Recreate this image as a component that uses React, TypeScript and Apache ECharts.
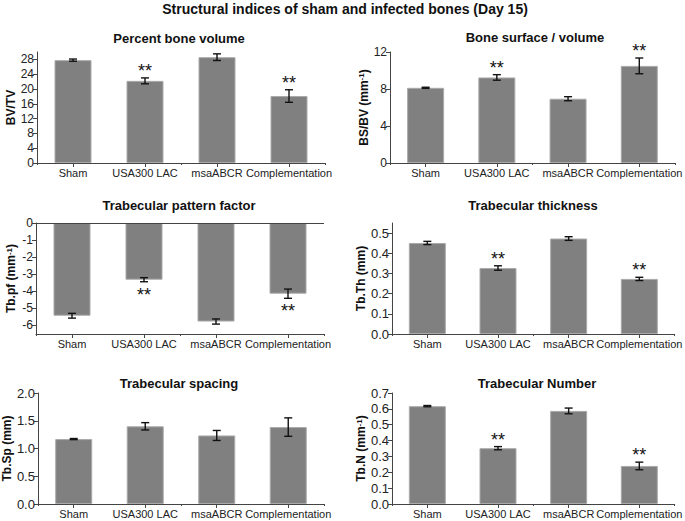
import React, { useEffect, useRef } from "react";
import * as echarts from "echarts";

const categories = ["Sham", "USA300 LAC", "msaABCR", "Complementation"];

const bvtvValues = [27.8, 22.2, 28.6, 18.1];
const bvtvErrors = [0.3, 0.8, 0.9, 1.7];
const bvtvStars = [false, true, false, true];

const bsbvValues = [8.13, 9.25, 6.95, 10.5];
const bsbvErrors = [0.06, 0.3, 0.22, 0.85];
const bsbvStars = [false, true, false, true];

const tbpfValues = [-5.43, -3.32, -5.77, -4.14];
const tbpfErrors = [0.14, 0.12, 0.15, 0.27];
const tbpfStars = [false, true, false, true];

const tbthValues = [0.451, 0.327, 0.473, 0.273];
const tbthErrors = [0.008, 0.011, 0.009, 0.008];
const tbthStars = [false, true, false, true];

const tbspValues = [1.17, 1.4, 1.235, 1.386];
const tbspErrors = [0.01, 0.066, 0.09, 0.166];
const tbspStars = [false, false, false, false];

const tbnValues = [0.617, 0.352, 0.587, 0.24];
const tbnErrors = [0.004, 0.01, 0.018, 0.024];
const tbnStars = [false, true, false, true];

const bvtvTicks = [0, 4, 8, 12, 16, 20, 24, 28];
const bsbvTicks = [0, 4, 8, 12];
const tbpfTicks = [0, -1, -2, -3, -4, -5, -6];
const tbthTicks = [0, 0.1, 0.2, 0.3, 0.4, 0.5];
const tbspTicks = [0, 0.5, 1.0, 1.5, 2.0];
const tbnTicks = [0, 0.1, 0.2, 0.3, 0.4, 0.5, 0.6, 0.7];

const FONT = "'Liberation Sans', Arial, Helvetica, sans-serif";

type Panel = {
  title: string;
  name: string;
  values: number[];
  errors: number[];
  stars: boolean[];
  ticks: number[];
  min: number;
  max: number;
  decimals: number;
  tickSize: number;
  grid: { left: number; top: number; width: number; height: number };
  titlePos: [number, number];
  nameGap: number;
  negative?: boolean;
};

const panels: Panel[] = [
  {
    title: "Percent bone volume",
    name: "{b|BV/TV}",
    values: bvtvValues, errors: bvtvErrors, stars: bvtvStars, ticks: bvtvTicks,
    min: 0, max: 30, decimals: 0, tickSize: 12,
    grid: { left: 37, top: 52, width: 288, height: 111 },
    titlePos: [179, 40], nameGap: 20,
  },
  {
    title: "Bone surface / volume",
    name: "{b|BS/BV (mm}{s|-1}{b|)}",
    values: bsbvValues, errors: bsbvErrors, stars: bsbvStars, ticks: bsbvTicks,
    min: 0, max: 12, decimals: 0, tickSize: 12,
    grid: { left: 390, top: 52, width: 288, height: 111 },
    titlePos: [535, 39], nameGap: 20,
  },
  {
    title: "Trabecular pattern factor",
    name: "{b|Tb.pf (mm}{s|-1}{b|)}",
    values: tbpfValues, errors: tbpfErrors, stars: tbpfStars, ticks: tbpfTicks,
    min: -6.5, max: 0, decimals: 0, tickSize: 12,
    grid: { left: 36, top: 223, width: 288, height: 111 },
    titlePos: [179, 207], nameGap: 19, negative: true,
  },
  {
    title: "Trabecular thickness",
    name: "{b|Tb.Th (mm)}",
    values: tbthValues, errors: tbthErrors, stars: tbthStars, ticks: tbthTicks,
    min: 0, max: 0.55, decimals: 1, tickSize: 13,
    grid: { left: 392, top: 223, width: 286, height: 111 },
    titlePos: [533, 207], nameGap: 22,
  },
  {
    title: "Trabecular spacing",
    name: "{b|Tb.Sp (mm)}",
    values: tbspValues, errors: tbspErrors, stars: tbspStars, ticks: tbspTicks,
    min: 0, max: 2, decimals: 1, tickSize: 13,
    grid: { left: 36, top: 393, width: 288, height: 111 },
    titlePos: [179, 385], nameGap: 23,
  },
  {
    title: "Trabecular Number",
    name: "{b|Tb.N (mm}{s|-1}{b|)}",
    values: tbnValues, errors: tbnErrors, stars: tbnStars, ticks: tbnTicks,
    min: 0, max: 0.7, decimals: 1, tickSize: 13,
    grid: { left: 392, top: 393, width: 286, height: 111 },
    titlePos: [537, 385], nameGap: 24,
  },
];

function buildOption() {
  const titles: any[] = [
    {
      text: "Structural indices of sham and infected bones (Day 15)",
      left: 345,
      top: 2,
      padding: 0,
      textAlign: "center",
      textStyle: { fontFamily: FONT, fontSize: 14, fontWeight: "bold", color: "#111" },
    },
  ];
  const grids: any[] = [];
  const xAxes: any[] = [];
  const yAxes: any[] = [];
  const series: any[] = [];

  panels.forEach((p, i) => {
    titles.push({
      text: p.title,
      left: p.titlePos[0],
      top: p.titlePos[1] - 8,
      padding: 0,
      textAlign: "center",
      textStyle: { fontFamily: FONT, fontSize: 13, fontWeight: "bold", color: "#111" },
    });
    grids.push({ ...p.grid, containLabel: false });
    xAxes.push({
      type: "category",
      gridIndex: i,
      data: categories,
      position: "bottom",
      axisLine: { show: true, onZero: false, lineStyle: { color: "#444", width: 1 } },
      axisTick: { show: true, alignWithLabel: true, length: 4, lineStyle: { color: "#444" } },
      axisLabel: { show: true, fontFamily: FONT, fontSize: 11, color: "#222", margin: 4, interval: 0 },
      splitLine: { show: false },
    });
    xAxes.push({
      type: "category",
      gridIndex: i,
      data: categories,
      position: "bottom",
      axisLine: { show: false, onZero: false },
      axisTick: { show: true, alignWithLabel: false, length: 2, lineStyle: { color: "#444" } },
      axisLabel: { show: false },
      splitLine: { show: false },
    });
    yAxes.push({
      type: "value",
      gridIndex: i,
      min: p.min,
      max: p.max,
      name: p.name,
      nameLocation: "middle",
      nameRotate: 90,
      nameGap: p.nameGap,
      nameTextStyle: {
        fontFamily: FONT,
        color: "#111",
        rich: {
          b: { fontFamily: FONT, fontSize: 12, fontWeight: "bold", color: "#111" },
          s: { fontFamily: FONT, fontSize: 8, fontWeight: "bold", color: "#111", verticalAlign: "top", lineHeight: 10 },
        },
      },
      axisLine: { show: true, lineStyle: { color: "#444", width: 1 } },
      axisTick: { show: true, length: 4, customValues: p.ticks, lineStyle: { color: "#444" } },
      axisLabel: {
        fontFamily: FONT,
        fontSize: p.tickSize,
        color: "#222",
        margin: 3,
        customValues: p.ticks,
        formatter: (v: number) => v.toFixed(p.decimals),
      },
      splitLine: { show: false },
    });

    const barSeries: any = {
      type: "bar",
      xAxisIndex: i * 2,
      yAxisIndex: i,
      data: p.values,
      barWidth: 37,
      itemStyle: { color: "#808080", borderColor: "#aaaaaa", borderWidth: 1 },
      silent: true,
    };
    if (p.negative) {
      barSeries.markLine = {
        silent: true,
        symbol: ["none", "none"],
        label: { show: false },
        lineStyle: { color: "#444", width: 1, type: "solid" },
        data: [{ yAxis: 0 }],
      };
    }
    series.push(barSeries);

    const negative = !!p.negative;
    series.push({
      type: "custom",
      xAxisIndex: i * 2,
      yAxisIndex: i,
      silent: true,
      data: p.values.map((v, k) => [k, v, p.errors[k], p.stars[k] ? 1 : 0]),
      encode: { x: 0, y: 1 },
      z: 5,
      renderItem: (params: any, api: any) => {
        const k = api.value(0);
        const v = api.value(1);
        const e = api.value(2);
        const s = api.value(3);
        const top = api.coord([k, v + e]);
        const bot = api.coord([k, v - e]);
        const x = top[0];
        const cap = 4;
        const style = { stroke: "#111", lineWidth: 1.4 };
        const children: any[] = [
          { type: "line", shape: { x1: x, y1: top[1], x2: x, y2: bot[1] }, style },
          { type: "line", shape: { x1: x - cap, y1: top[1], x2: x + cap, y2: top[1] }, style },
          { type: "line", shape: { x1: x - cap, y1: bot[1], x2: x + cap, y2: bot[1] }, style },
        ];
        if (s) {
          const cy = negative ? bot[1] + 9 : top[1] - 11;
          children.push({
            type: "text",
            style: {
              text: "**",
              x: x,
              y: cy + 4,
              align: "center",
              verticalAlign: "middle",
              fontFamily: FONT,
              fontSize: 18,
              fill: "#111",
            },
          });
        }
        return { type: "group", children };
      },
    });
  });

  return {
    animation: false,
    backgroundColor: "#ffffff",
    title: titles,
    grid: grids,
    xAxis: xAxes,
    yAxis: yAxes,
    series,
  };
}

export default function App() {
  const ref = useRef<HTMLDivElement>(null);
  useEffect(() => {
    if (!ref.current) return;
    const chart = echarts.init(ref.current, undefined, { renderer: "svg" });
    chart.setOption(buildOption() as any);
    return () => chart.dispose();
  }, []);
  return (
    <div
      ref={ref}
      style={{ position: "fixed", left: 0, top: 0, width: 685, height: 521, background: "#fff" }}
    />
  );
}
